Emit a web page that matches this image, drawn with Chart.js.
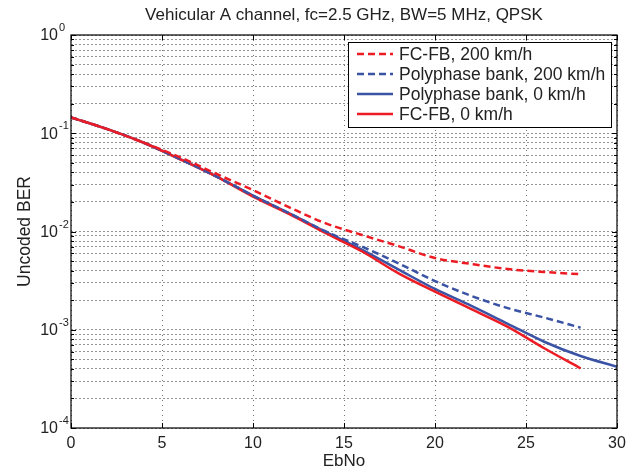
<!DOCTYPE html>
<html>
<head>
<meta charset="utf-8">
<title>Uncoded BER, Vehicular A</title>
<script src="https://cdn.jsdelivr.net/npm/chart.js@4.4.1/dist/chart.umd.min.js"></script>
<style>
  html, body { margin: 0; padding: 0; background: #fff; }
  #wrap { width: 640px; height: 472px; }
</style>
</head>
<body>
<div id="wrap"><canvas id="berChart" width="640" height="472"></canvas></div>
<script>
// EbNo (dB)
const ebno = [0, 2, 4, 6, 8, 10, 12, 14, 16, 18, 20, 22, 24, 26, 28, 30];

// uncoded BER
const fcfb200 = [0.145, 0.110, 0.080, 0.0569, 0.0385, 0.0264, 0.0176, 0.0121, 0.0092, 0.0071, 0.00537, 0.00467, 0.00415, 0.00387, 0.00367, null];
const poly200 = [0.145, 0.110, 0.080, 0.0545, 0.0362, 0.0232, 0.0153, 0.0100, 0.0070, 0.00474, 0.00313, 0.00221, 0.00166, 0.00133, 0.00105, null];
const poly0   = [0.145, 0.110, 0.080, 0.0545, 0.0362, 0.0232, 0.0153, 0.0099, 0.0065, 0.00410, 0.00260, 0.00175, 0.00115, 0.000755, 0.00054, 0.00042];
const fcfb0   = [0.145, 0.110, 0.080, 0.0543, 0.0361, 0.0226, 0.0150, 0.0096, 0.00626, 0.00375, 0.00244, 0.00162, 0.00107, 0.000648, 0.000405, null];

const seriesNames = ['FC-FB, 200 km/h', 'Polyphase bank, 200 km/h', 'Polyphase bank, 0 km/h', 'FC-FB, 0 km/h'];

const xTicks = [0, 5, 10, 15, 20, 25, 30];
const yExponents = [0, -1, -2, -3, -4];   // labels 10^n
const yMantissas = [1, 2, 3, 4, 5, 6, 7, 8, 9];

const RED = '#ed1c24';
const BLUE = '#3a53a4';
const FONT = "'Liberation Sans', Arial, sans-serif";

function pts(arr) {
    return ebno.map((x, i) => ({ x: x, y: arr[i] }));
}

function lineSet(label, arr, color, dashed, order) {
    return {
        label: label,
        data: pts(arr),
        borderColor: color,
        backgroundColor: color,
        borderWidth: 2.5,
        borderDash: dashed ? [7, 4] : [],
        borderCapStyle: 'butt',
        pointRadius: 0,
        cubicInterpolationMode: 'monotone',
        fill: false,
        order: order
    };
}

// frame, inner ticks, y labels with exponents, boxed legend
const matlabLook = {
    id: 'matlabLook',
    afterDraw(chart) {
        const ctx = chart.ctx;
        const a = chart.chartArea;
        const xs = chart.scales.x;
        const ys = chart.scales.y;
        ctx.save();

        // inner ticks
        ctx.strokeStyle = '#000';
        ctx.lineWidth = 1;
        ctx.setLineDash([]);
        ctx.beginPath();
        xTicks.forEach(v => {
            const px = Math.round(xs.getPixelForValue(v)) + 0.5;
            ctx.moveTo(px, a.bottom); ctx.lineTo(px, a.bottom - 5);
            ctx.moveTo(px, a.top); ctx.lineTo(px, a.top + 5);
        });
        ys.ticks.forEach(t => {
            const py = Math.round(ys.getPixelForValue(t.value)) + 0.5;
            const len = t.major ? 5 : 3;
            ctx.moveTo(a.left, py); ctx.lineTo(a.left + len, py);
            ctx.moveTo(a.right, py); ctx.lineTo(a.right - len, py);
        });
        ctx.stroke();

        // axes box
        ctx.lineWidth = 1.2;
        ctx.strokeRect(a.left, a.top, a.right - a.left, a.bottom - a.top);

        // y labels 10^n
        ctx.fillStyle = '#222';
        ctx.textBaseline = 'middle';
        yExponents.forEach(n => {
            const py = ys.getPixelForValue(Math.pow(10, n));
            ctx.font = '16px ' + FONT;
            ctx.textAlign = 'right';
            ctx.fillText('10', 58, py + 1);
            ctx.font = '11px ' + FONT;
            ctx.textAlign = 'left';
            ctx.fillText(n === 0 ? '0' : '-' + Math.abs(n), 59, py - 7);
        });

        // legend
        const lx = 348, ly = 42, lw = 263, lh = 85;
        ctx.fillStyle = '#fff';
        ctx.fillRect(lx, ly, lw, lh);
        ctx.lineWidth = 1;
        ctx.strokeStyle = '#000';
        ctx.strokeRect(lx + 0.5, ly + 0.5, lw, lh);
        ctx.font = '17.5px ' + FONT;
        ctx.textAlign = 'left';
        ctx.textBaseline = 'middle';
        chart.data.datasets.forEach((ds, i) => {
            const ry = ly + 12 + i * 20;
            ctx.strokeStyle = ds.borderColor;
            ctx.lineWidth = 2.5;
            ctx.setLineDash(ds.borderDash);
            ctx.beginPath();
            ctx.moveTo(lx + 9, ry);
            ctx.lineTo(lx + 45, ry);
            ctx.stroke();
            ctx.setLineDash([]);
            ctx.fillStyle = '#222';
            ctx.fillText(ds.label, lx + 51, ry + 1);
        });

        ctx.restore();
    }
};

const ctx = document.getElementById('berChart').getContext('2d');
const berChart = new Chart(ctx, {
    type: 'line',
    data: {
        datasets: [
            lineSet(seriesNames[0], fcfb200, RED, true, 0),
            lineSet(seriesNames[1], poly200, BLUE, true, 1),
            lineSet(seriesNames[2], poly0, BLUE, false, 3),
            lineSet(seriesNames[3], fcfb0, RED, false, 2)
        ]
    },
    options: {
        responsive: false,
        animation: false,
        layout: { padding: { left: 0, right: 23, top: 0, bottom: 0 } },
        plugins: {
            legend: { display: false },
            tooltip: { enabled: false },
            title: {
                display: true,
                fullSize: false,
                text: 'Vehicular A channel, fc=2.5 GHz, BW=5 MHz, QPSK',
                color: '#222',
                font: { family: FONT, size: 17, weight: 'normal' },
                padding: { top: 5, bottom: 9.6 }
            }
        },
        scales: {
            x: {
                type: 'linear',
                min: 0,
                max: 30,
                afterBuildTicks: s => { s.ticks = xTicks.map(v => ({ value: v })); },
                afterFit: s => { s.height = 44; },
                grid: { color: 'rgba(0,0,0,0.55)', lineWidth: 1, drawTicks: false },
                border: { display: false, dash: [1, 4] },
                ticks: { color: '#222', font: { family: FONT, size: 16 }, padding: 6, maxRotation: 0 },
                title: { display: true, text: 'EbNo', color: '#222', font: { family: FONT, size: 17 }, padding: { top: 0, bottom: 0 } }
            },
            y: {
                type: 'logarithmic',
                min: 1e-4,
                max: 1,
                afterBuildTicks: s => {
                    const t = [];
                    yExponents.slice().reverse().forEach(n => {
                        if (n === 0) { t.push({ value: 1, major: true }); return; }
                        yMantissas.forEach(m => t.push({ value: m * Math.pow(10, n), major: m === 1 }));
                    });
                    s.ticks = t;
                },
                afterFit: s => { s.width = 71; },
                grid: { color: 'rgba(0,0,0,0.42)', lineWidth: 1, drawTicks: false },
                border: { display: false, dash: [2, 2] },
                ticks: { display: false },
                title: { display: true, text: 'Uncoded BER', color: '#222', font: { family: FONT, size: 17.5 }, padding: { top: 15, bottom: 0 } }
            }
        }
    },
    plugins: [matlabLook]
});
</script>
</body>
</html>
